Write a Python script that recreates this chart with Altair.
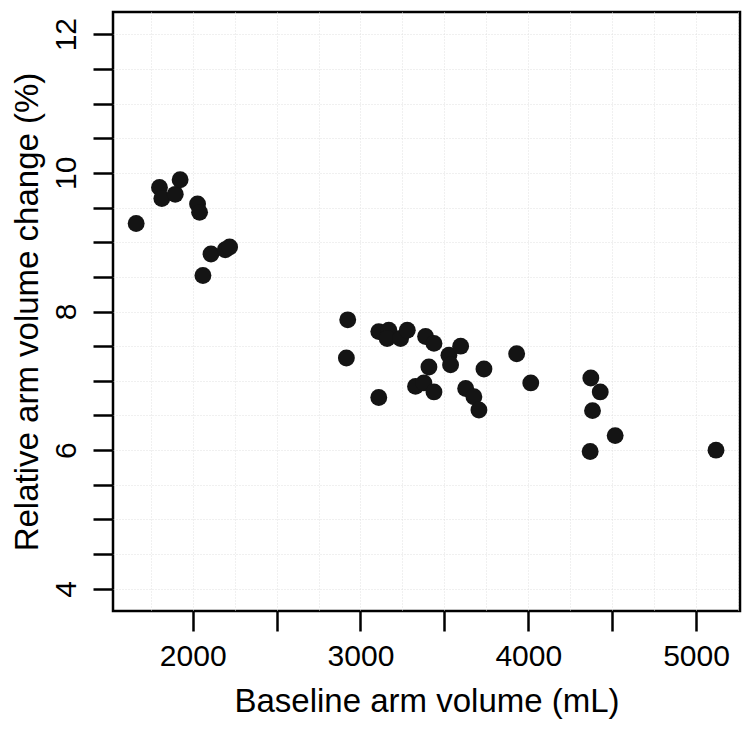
import altair as alt
import pandas as pd

# Baseline arm volume (mL)
volume = [1663, 1802, 1816, 1896, 1925, 2029, 2041, 2109, 2194, 2220, 2061,
          2924, 2916, 3109, 3109, 3169, 3159, 3239, 3279, 3388, 3438, 3408,
          3527, 3537, 3597, 3736, 3328, 3378, 3438, 3627, 3676, 3706, 3931,
          4015, 4373, 4429, 4383, 4518, 4369, 5119]
# Relative arm volume change (%)
change = [9.27, 9.79, 9.63, 9.69, 9.90, 9.55, 9.43, 8.83, 8.89, 8.93, 8.52,
          7.88, 7.33, 6.76, 7.71, 7.73, 7.61, 7.61, 7.73, 7.64, 7.54, 7.20,
          7.37, 7.23, 7.50, 7.17, 6.92, 6.97, 6.84, 6.89, 6.77, 6.58, 7.39,
          6.97, 7.04, 6.84, 6.57, 6.21, 5.98, 6.00]

x_values = [1750 + 250 * i for i in range(15)]
y_values = [4 + 0.5 * i for i in range(17)]

df = pd.DataFrame({"volume": volume, "change": change})

font = "Liberation Sans"

chart = alt.Chart(df).mark_circle(
    size=285, color="#141414", opacity=1
).encode(
    x=alt.X(
        "volume:Q",
        scale=alt.Scale(domain=[1525, 5262], nice=False, zero=False),
        axis=alt.Axis(
            title="Baseline arm volume (mL)",
            values=x_values,
            labelExpr="datum.value % 1000 == 0 ? datum.label : ''",
            format="d",
            tickOpacity={"condition": {"test": "datum.value % 500 != 0", "value": 0}, "value": 1},
            grid=True,
            titlePadding=14,
        ),
    ),
    y=alt.Y(
        "change:Q",
        scale=alt.Scale(domain=[3.68, 12.32], nice=False, zero=False),
        axis=alt.Axis(
            title="Relative arm volume change (%)",
            values=y_values,
            labelExpr="datum.value % 2 == 0 ? datum.label : ''",
            format=".0f",
            labelAngle=270,
            labelAlign="center",
            labelBaseline="bottom",
            labelPadding=12,
            grid=True,
            titlePadding=7,
        ),
    ),
).properties(
    width=627,
    height=599,
    autosize=alt.AutoSizeParams(type="none"),
    padding={"left": 105, "top": 4, "right": 3, "bottom": 108},
).configure_view(
    stroke="black", strokeWidth=2.5
).configure_axis(
    domain=False,
    tickColor="black",
    tickWidth=2.5,
    tickSize=20,
    labelFont=font,
    labelFontSize=30,
    labelColor="black",
    labelPadding=10,
    titleFont=font,
    titleFontSize=33,
    titleFontWeight="normal",
    titleColor="black",
    gridColor="#e0e0e0",
    gridDash=[1, 2],
    gridWidth=1,
    labelOverlap=False,
)

chart.save("out.html", embed_options={"renderer": "svg", "actions": False})
